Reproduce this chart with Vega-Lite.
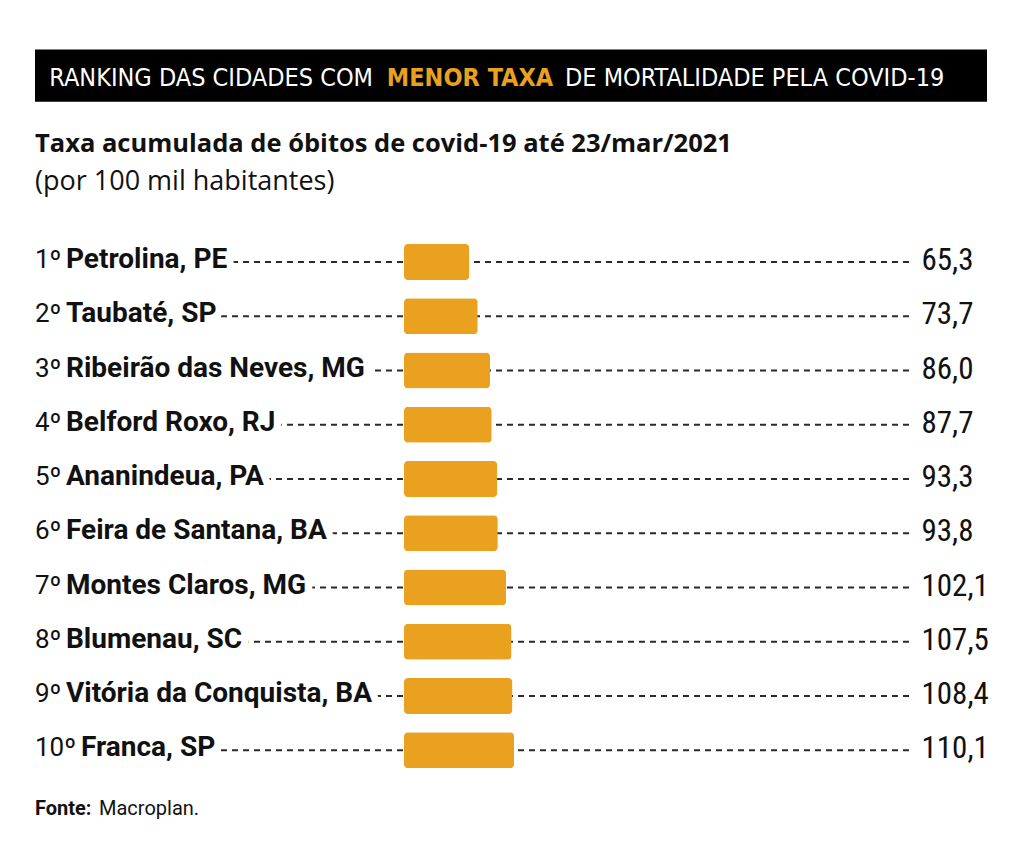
{
  "$schema": "https://vega.github.io/schema/vega-lite/v6.json",
  "width": 1024,
  "height": 862,
  "autosize": "none",
  "padding": 0,
  "background": "white",
  "config": {
    "view": {"stroke": null},
    "font": "Roboto",
    "locale": {"number": {"decimal": ",", "thousands": ".", "grouping": [3], "currency": ["R$", ""]}}
  },
  "data": {"values": [
    {"rank": 1, "ordem": "1º", "nome": "Petrolina, PE", "taxa": 65.3},
    {"rank": 2, "ordem": "2º", "nome": "Taubaté, SP", "taxa": 73.7},
    {"rank": 3, "ordem": "3º", "nome": "Ribeirão das Neves, MG", "taxa": 86.0},
    {"rank": 4, "ordem": "4º", "nome": "Belford Roxo, RJ", "taxa": 87.7},
    {"rank": 5, "ordem": "5º", "nome": "Ananindeua, PA", "taxa": 93.3},
    {"rank": 6, "ordem": "6º", "nome": "Feira de Santana, BA", "taxa": 93.8},
    {"rank": 7, "ordem": "7º", "nome": "Montes Claros, MG", "taxa": 102.1},
    {"rank": 8, "ordem": "8º", "nome": "Blumenau, SC", "taxa": 107.5},
    {"rank": 9, "ordem": "9º", "nome": "Vitória da Conquista, BA", "taxa": 108.4},
    {"rank": 10, "ordem": "10º", "nome": "Franca, SP", "taxa": 110.1}
  ]},
  "layer": [
    {
      "mark": {"type": "rule", "stroke": "#2a2a2a", "strokeWidth": 2, "strokeDash": [6, 5]},
      "encoding": {
        "x": {"datum": -304, "type": "quantitative", "scale": {"domain": [-404, 620], "nice": false, "zero": false}, "axis": null},
        "x2": {"datum": 507.5},
        "y": {"field": "rank", "type": "quantitative", "scale": {"domain": [-3.736, 11.965], "nice": false, "zero": false, "reverse": true}, "axis": null}
      }
    },
    {
      "transform": [{"filter": "datum.rank < 10"}],
      "mark": {"type": "text", "align": "left", "baseline": "alphabetic", "dx": 31, "dy": 6, "font": "Roboto", "fontWeight": "bold", "fontSize": 28, "fill": "#ffffff", "stroke": "#ffffff", "strokeWidth": 15, "strokeJoin": "round"},
      "encoding": {
        "x": {"datum": -369, "type": "quantitative"},
        "y": {"field": "rank", "type": "quantitative"},
        "text": {"field": "nome", "type": "nominal"}
      }
    },
    {
      "transform": [{"filter": "datum.rank >= 10"}],
      "mark": {"type": "text", "align": "left", "baseline": "alphabetic", "dx": 46, "dy": 6, "font": "Roboto", "fontWeight": "bold", "fontSize": 28, "fill": "#ffffff", "stroke": "#ffffff", "strokeWidth": 15, "strokeJoin": "round"},
      "encoding": {
        "x": {"datum": -369, "type": "quantitative"},
        "y": {"field": "rank", "type": "quantitative"},
        "text": {"field": "nome", "type": "nominal"}
      }
    },
    {
      "mark": {"type": "text", "align": "left", "baseline": "alphabetic", "dy": 6, "font": "Roboto", "fontSize": 26, "fill": "#111111"},
      "encoding": {
        "x": {"datum": -369, "type": "quantitative"},
        "y": {"field": "rank", "type": "quantitative"},
        "text": {"field": "ordem", "type": "nominal"}
      }
    },
    {
      "transform": [{"filter": "datum.rank < 10"}],
      "mark": {"type": "text", "align": "left", "baseline": "alphabetic", "dx": 31, "dy": 6, "font": "Roboto", "fontWeight": "bold", "fontSize": 28, "fill": "#111111"},
      "encoding": {
        "x": {"datum": -369, "type": "quantitative"},
        "y": {"field": "rank", "type": "quantitative"},
        "text": {"field": "nome", "type": "nominal"}
      }
    },
    {
      "transform": [{"filter": "datum.rank >= 10"}],
      "mark": {"type": "text", "align": "left", "baseline": "alphabetic", "dx": 46, "dy": 6, "font": "Roboto", "fontWeight": "bold", "fontSize": 28, "fill": "#111111"},
      "encoding": {
        "x": {"datum": -369, "type": "quantitative"},
        "y": {"field": "rank", "type": "quantitative"},
        "text": {"field": "nome", "type": "nominal"}
      }
    },
    {
      "mark": {"type": "bar", "orient": "horizontal", "size": 36, "fill": "#E9A11F", "cornerRadius": 4},
      "encoding": {
        "x": {"field": "taxa", "type": "quantitative"},
        "y": {"field": "rank", "type": "quantitative"}
      }
    },
    {
      "mark": {"type": "text", "align": "left", "baseline": "alphabetic", "dy": 8, "font": "Roboto Condensed", "fontSize": 31, "fill": "#111111"},
      "encoding": {
        "x": {"datum": 517.5, "type": "quantitative"},
        "y": {"field": "rank", "type": "quantitative"},
        "text": {"field": "taxa", "type": "quantitative", "format": ".1f"}
      }
    },
    {
      "data": {"values": [{}]},
      "mark": {"type": "rect", "fill": "#000000"},
      "encoding": {
        "x": {"datum": -369, "type": "quantitative"},
        "x2": {"datum": 583},
        "y": {"datum": -2.916, "type": "quantitative"},
        "y2": {"datum": -1.951}
      }
    },
    {
      "data": {"values": [{}]},
      "mark": {"type": "text", "text": "RANKING DAS CIDADES COM", "align": "right", "baseline": "alphabetic", "font": "DejaVu Sans Condensed", "fontSize": 25, "fill": "#ffffff"},
      "encoding": {
        "x": {"datum": -31, "type": "quantitative"},
        "y": {"datum": -2.25, "type": "quantitative"}
      }
    },
    {
      "data": {"values": [{}]},
      "mark": {"type": "text", "text": "MENOR TAXA", "align": "center", "baseline": "alphabetic", "font": "DejaVu Sans Condensed", "fontWeight": "bold", "fontSize": 25, "fill": "#E9A11F"},
      "encoding": {
        "x": {"datum": 66, "type": "quantitative"},
        "y": {"datum": -2.25, "type": "quantitative"}
      }
    },
    {
      "data": {"values": [{}]},
      "mark": {"type": "text", "text": "DE MORTALIDADE PELA COVID-19", "align": "left", "baseline": "alphabetic", "font": "DejaVu Sans Condensed", "fontSize": 25, "fill": "#ffffff"},
      "encoding": {
        "x": {"datum": 161, "type": "quantitative"},
        "y": {"datum": -2.25, "type": "quantitative"}
      }
    },
    {
      "data": {"values": [{}]},
      "mark": {"type": "text", "text": "Taxa acumulada de óbitos de covid-19 até 23/mar/2021", "align": "left", "baseline": "alphabetic", "font": "Open Sans", "fontWeight": "bold", "fontSize": 25.5, "fill": "#111111"},
      "encoding": {
        "x": {"datum": -369, "type": "quantitative"},
        "y": {"datum": -1.035, "type": "quantitative"}
      }
    },
    {
      "data": {"values": [{}]},
      "mark": {"type": "text", "text": "(por 100 mil habitantes)", "align": "left", "baseline": "alphabetic", "font": "Open Sans", "fontSize": 27, "fill": "#111111"},
      "encoding": {
        "x": {"datum": -369, "type": "quantitative"},
        "y": {"datum": -0.335, "type": "quantitative"}
      }
    },
    {
      "data": {"values": [{}]},
      "mark": {"type": "text", "text": "Fonte:", "align": "left", "baseline": "alphabetic", "font": "Roboto", "fontWeight": "bold", "fontSize": 20, "fill": "#111111"},
      "encoding": {
        "x": {"datum": -369, "type": "quantitative"},
        "y": {"datum": 11.188, "type": "quantitative"}
      }
    },
    {
      "data": {"values": [{}]},
      "mark": {"type": "text", "text": "Macroplan.", "align": "left", "baseline": "alphabetic", "font": "Roboto", "fontSize": 20, "fill": "#111111"},
      "encoding": {
        "x": {"datum": -305, "type": "quantitative"},
        "y": {"datum": 11.188, "type": "quantitative"}
      }
    }
  ]
}
